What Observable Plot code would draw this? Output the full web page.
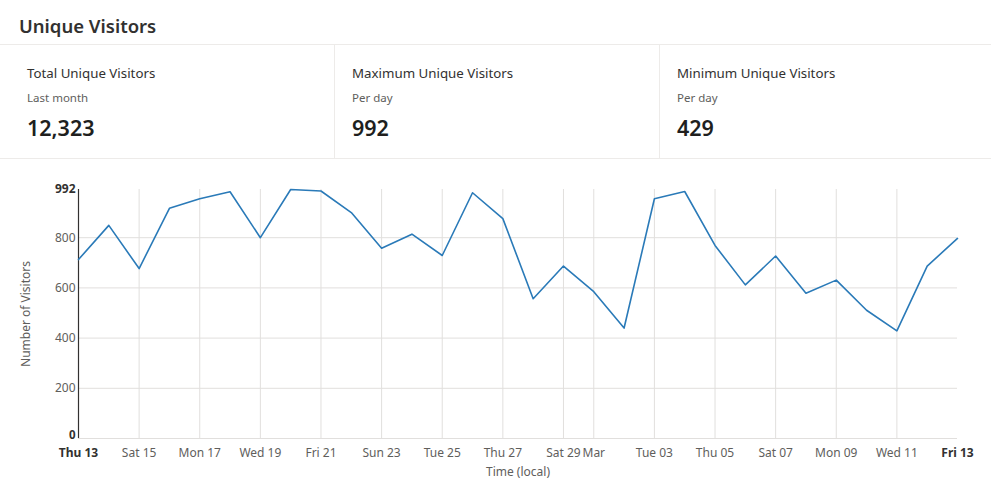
<!DOCTYPE html>
<html>
<head>
<meta charset="utf-8">
<script src="https://cdn.jsdelivr.net/npm/d3@7"></script>
<script src="https://cdn.jsdelivr.net/npm/@observablehq/plot@0.6"></script>
<style>
  html, body { margin: 0; padding: 0; background: #fff; }
  body { width: 991px; height: 484px; overflow: hidden; font-family: "Segoe UI", "Noto Sans", "Open Sans", sans-serif; color: #323130; }
  .header { height: 45px; border-bottom: 1px solid #edebe9; box-sizing: border-box; padding-left: 19px; }
  .header h1 { margin: 0; font-size: 18.5px; font-weight: 600; line-height: 52px; color: #323130; }
  .cards { display: flex; height: 114px; border-bottom: 1px solid #edebe9; box-sizing: border-box; padding-left: 10px; }
  .card { width: 325px; box-sizing: border-box; padding-left: 17px; border-right: 1px solid #edebe9; }
  .card:last-child { border-right: none; }
  .card .label { font-size: 13.3px; margin-top: 18px; line-height: 20px; color: #323130; }
  .card .sub { font-size: 11.5px; margin-top: 7px; line-height: 16px; color: #605e5c; }
  .card .value { font-size: 21.5px; font-weight: 600; margin-top: 6px; line-height: 32px; color: #201f1e; }
  #chart svg { display: block; }
</style>
</head>
<body>
<div class="header"><h1>Unique Visitors</h1></div>
<div class="cards" id="cards"></div>
<div id="chart"></div>
<script>
const cardLabels = ["Total Unique Visitors", "Maximum Unique Visitors", "Minimum Unique Visitors"];
const cardSubs = ["Last month", "Per day", "Per day"];
const cardValues = ["12,323", "992", "429"];

const dates = d3.utcDays(new Date(Date.UTC(2020, 1, 13)), new Date(Date.UTC(2020, 2, 14)));
const visitors = [713, 849, 677, 917, 955, 983, 800, 992, 986, 900,
                  758, 814, 729, 979, 876, 557, 687, 585, 440, 955,
                  984, 769, 612, 727, 579, 631, 511, 429, 687, 797];

const xTickDates = [
  Date.UTC(2020,1,15), Date.UTC(2020,1,17), Date.UTC(2020,1,19), Date.UTC(2020,1,21),
  Date.UTC(2020,1,23), Date.UTC(2020,1,25), Date.UTC(2020,1,27), Date.UTC(2020,1,29),
  Date.UTC(2020,2,1), Date.UTC(2020,2,3), Date.UTC(2020,2,5), Date.UTC(2020,2,7),
  Date.UTC(2020,2,9), Date.UTC(2020,2,11)
].map(d => new Date(d));
const xTickLabels = ["Sat 15", "Mon 17", "Wed 19", "Fri 21", "Sun 23", "Tue 25", "Thu 27",
                     "Sat 29", "Mar", "Tue 03", "Thu 05", "Sat 07", "Mon 09", "Wed 11"];
const xEndDates = [new Date(Date.UTC(2020,1,13)), new Date(Date.UTC(2020,2,13))];
const xEndLabels = ["Thu 13", "Fri 13"];

const yTicks = [200, 400, 600, 800];
const yMaxTick = [992];
const yZeroTick = [0];

// cards
const cards = document.getElementById("cards");
cardLabels.forEach((l, i) => {
  const c = document.createElement("div");
  c.className = "card";
  c.innerHTML = `<div class="label">${l}</div><div class="sub">${cardSubs[i]}</div><div class="value">${cardValues[i]}</div>`;
  cards.appendChild(c);
});

const data = dates.map((d, i) => ({date: d, value: visitors[i]}));
const labelOf = (ticks, labels) => d => labels[ticks.findIndex(t => +t === +d)];

const chart = Plot.plot({
  width: 991,
  height: 324,
  marginTop: 30,
  marginBottom: 45,
  marginLeft: 78,
  marginRight: 34,
  style: {fontFamily: '"Segoe UI", "Noto Sans", "Open Sans", sans-serif', fontSize: "12px", background: "#fff"},
  x: {type: "utc", domain: xEndDates},
  y: {domain: [0, 992]},
  marks: [
    Plot.gridY([0, ...yTicks], {stroke: "#e1dfdd", strokeOpacity: 1}),
    Plot.gridX(xTickDates, {stroke: "#e1dfdd", strokeOpacity: 1}),
    Plot.ruleX([xEndDates[0]], {stroke: "#323130", strokeWidth: 1.2}),
    Plot.lineY(data, {x: "date", y: "value", stroke: "#2a7ab8", strokeWidth: 1.6}),
    Plot.axisY(yTicks, {tickSize: 0, tickPadding: 3, fill: "#605e5c", fontSize: 12,
      label: "Number of Visitors", labelAnchor: "center", labelArrow: "none", labelOffset: 57}),
    Plot.axisY(yMaxTick, {tickSize: 0, tickPadding: 3, fill: "#323130", fontSize: 12, fontWeight: "bold", label: null}),
    Plot.axisY(yZeroTick, {tickSize: 0, tickPadding: 3, dy: -3, fontSize: 11.5, fill: "#323130", fontWeight: "bold", label: null}),
    Plot.axisX(xTickDates, {tickSize: 0, tickPadding: 10, fill: "#605e5c", fontSize: 12,
      tickFormat: labelOf(xTickDates, xTickLabels),
      label: "Time (local)", labelAnchor: "center", labelArrow: "none", labelOffset: 37}),
    Plot.axisX(xEndDates, {tickSize: 0, tickPadding: 10, fill: "#323130", fontSize: 12, fontWeight: "bold",
      tickFormat: labelOf(xEndDates, xEndLabels), label: null})
  ]
});
document.getElementById("chart").appendChild(chart);
</script>
</body>
</html>
